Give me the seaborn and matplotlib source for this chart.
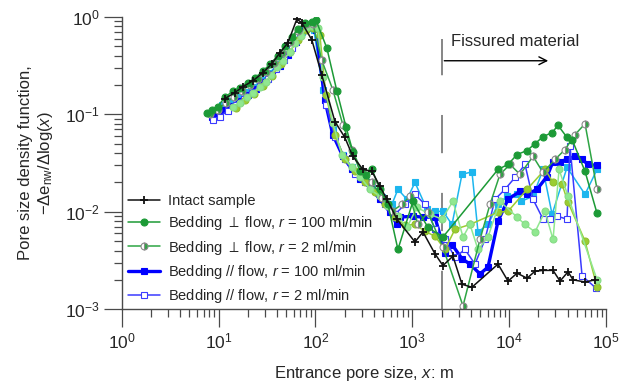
import matplotlib
matplotlib.use("Agg")
import matplotlib.pyplot as plt
import seaborn as sns

# values (x: entrance pore size, y: -de/dlog(x))
x_intact = [11.6, 14.7, 17.8, 22.6, 28.6, 35.4, 42.9, 51.9, 64.2, 72.4, 91.8, 116, 159, 201,
            243, 309, 383, 463, 547, 693, 1064, 1288, 1712, 2070, 2625, 3253, 4125, 7660,
            9720, 12050, 15290, 18457, 22340, 28340, 33445, 40470, 45600, 60604, 76872]
y_intact = [0.145, 0.167, 0.192, 0.221, 0.267, 0.330, 0.428, 0.542, 0.95, 0.87, 0.58, 0.255,
            0.084, 0.058, 0.037, 0.0272, 0.026, 0.0182, 0.0134, 0.0084, 0.0049, 0.0062,
            0.0037, 0.0028, 0.0035, 0.0018, 0.00168, 0.0029, 0.00194, 0.00234, 0.00208,
            0.00245, 0.0025, 0.0025, 0.00194, 0.00242, 0.0020, 0.0019, 0.0020]

x_perp100 = [7.55, 8.5, 9.8, 11.6, 14.0, 16.6, 20.0, 23.7, 28.6, 33.8, 40.9, 48.3, 57.0, 65.8,
             77.7, 91.8, 101, 131, 166, 206, 243, 288, 332, 383, 463, 560, 710, 1014, 1449,
             2070, 7660, 9720, 12050, 15290, 18457, 22340, 27700, 31900, 39500, 44600,
             60604, 80700]
y_perp100 = [0.104, 0.112, 0.120, 0.15, 0.172, 0.188, 0.21, 0.236, 0.278, 0.325, 0.40, 0.505,
             0.624, 0.75, 0.87, 0.89, 0.93, 0.48, 0.175, 0.075, 0.0415, 0.026, 0.0236,
             0.0272, 0.017, 0.0119, 0.0041, 0.0128, 0.0069, 0.0055, 0.0272, 0.0306, 0.0387,
             0.0425, 0.050, 0.059, 0.065, 0.077, 0.058, 0.055, 0.026, 0.0096]

x_perp2 = [8.1, 9.8, 11.9, 14.4, 17.4, 21.0, 25.4, 30.7, 37.2, 45.0, 54.4, 65.8, 79.6, 94.0,
           116, 151, 192, 238, 301, 383, 486, 615, 781, 944, 1142, 1449, 2070, 3334, 4991,
           6331, 8030, 10186, 12920, 17620, 22340, 29696, 37667, 47778, 60604, 80700]
y_perp2 = [0.102, 0.112, 0.132, 0.152, 0.175, 0.201, 0.232, 0.274, 0.338, 0.428, 0.555, 0.72,
           0.85, 0.85, 0.36, 0.179, 0.078, 0.0435, 0.026, 0.020, 0.014, 0.0101, 0.0119,
           0.0144, 0.0074, 0.0099, 0.0043, 0.00108, 0.0052, 0.0119, 0.0242, 0.0306, 0.0242,
           0.037, 0.0253, 0.0344, 0.0435, 0.062, 0.080, 0.017]

x_para100 = [8.5, 9.8, 11.6, 13.7, 16.6, 20.0, 24.2, 29.3, 35.4, 42.9, 51.9, 62.8, 74.1, 87.5,
             101, 125, 151, 192, 238, 288, 365, 463, 587, 693, 745, 1014, 1288, 1712, 2172,
             2566, 3253, 3935, 4991, 6040, 7660, 9720, 12920, 15290, 19370, 24550, 28340,
             33445, 39500, 47778, 56500, 65200, 80700]
y_para100 = [0.095, 0.099, 0.112, 0.123, 0.138, 0.159, 0.183, 0.216, 0.261, 0.315, 0.41,
             0.555, 0.74, 0.81, 0.74, 0.141, 0.062, 0.037, 0.0272, 0.0215, 0.0178, 0.0134,
             0.0099, 0.0074, 0.0088, 0.0090, 0.0088, 0.0088, 0.0038, 0.0046, 0.0033, 0.0029,
             0.0023, 0.0027, 0.0080, 0.0134, 0.0162, 0.0151, 0.0170, 0.0230, 0.0328, 0.0328,
             0.0344, 0.037, 0.0344, 0.0306, 0.0299]

x_para2 = [8.7, 10.3, 12.4, 15.1, 18.2, 22.0, 26.7, 32.2, 39.0, 47.2, 57.0, 69.0, 79.6, 91.8,
           106, 128, 159, 201, 255, 324, 411, 521, 661, 839, 1064, 1350, 1712, 2172, 2754,
           3494, 4432, 5621, 7130, 9044, 11472, 14551, 17620, 22340, 26367, 31200, 39500,
           42423, 56500, 78800]
y_para2 = [0.088, 0.095, 0.109, 0.126, 0.145, 0.167, 0.197, 0.232, 0.29, 0.36, 0.48, 0.65,
           0.77, 0.79, 0.65, 0.126, 0.058, 0.0344, 0.0242, 0.020, 0.0162, 0.0119, 0.0094,
           0.0119, 0.0151, 0.0119, 0.0066, 0.0052, 0.0034, 0.0041, 0.0029, 0.0052, 0.0134,
           0.017, 0.0225, 0.0306, 0.0134, 0.0084, 0.0084, 0.0090, 0.0084, 0.047, 0.0022,
           0.00164]

# further runs drawn in the figure without a legend entry
x_cyan = [10.8, 13.1, 15.8, 19.1, 23.1, 27.9, 33.8, 40.9, 49.4, 59.8, 72.4, 83.5, 96.2, 119,
          151, 192, 238, 301, 383, 486, 615, 710, 880, 1064, 1416, 1712, 2070, 2566, 3253,
          4125, 4760, 6040, 7660, 9480, 12050, 13250, 17620, 22340, 27700, 39500, 60604,
          80700]
y_cyan = [0.126, 0.138, 0.152, 0.171, 0.192, 0.226, 0.267, 0.33, 0.42, 0.54, 0.70, 0.77, 0.74,
          0.179, 0.070, 0.0387, 0.0285, 0.0225, 0.0178, 0.0141, 0.0119, 0.0170, 0.0134,
          0.020, 0.0106, 0.0101, 0.0101, 0.0074, 0.0242, 0.0257, 0.0062, 0.0074, 0.0119,
          0.0144, 0.0151, 0.0128, 0.0144, 0.0272, 0.0094, 0.0285, 0.0151, 0.0272]

x_lgreen = [14.0, 16.6, 19.6, 22.6, 26.7, 30.7, 34.6, 39.9, 46.1, 54.4, 61.2, 70.6, 81.5, 91.8,
            106, 119, 151, 187, 238, 288, 365, 463, 560, 710, 880, 1116, 1520, 2020, 2625,
            3334, 3935, 4760, 6040, 8030, 12050, 14551, 18457, 23412, 28340, 32700, 40470,
            80700]
y_lgreen = [0.120, 0.132, 0.152, 0.167, 0.192, 0.216, 0.255, 0.308, 0.355, 0.438, 0.54, 0.64,
            0.79, 0.81, 0.77, 0.243, 0.082, 0.0387, 0.0285, 0.023, 0.017, 0.0144, 0.0114,
            0.0090, 0.0069, 0.0111, 0.0094, 0.0084, 0.0128, 0.0055, 0.0074, 0.0041, 0.0055,
            0.0128, 0.0088, 0.0074, 0.0062, 0.0101, 0.0052, 0.0272, 0.0144, 0.0020]

x_ygreen = [15.1, 18.7, 23.1, 28.6, 35.4, 43.9, 54.4, 65.8, 79.6, 94.0, 111, 128, 159, 201,
            255, 324, 411, 521, 661, 839, 1064, 1350, 1712, 2172, 2754, 3935, 7660, 9720,
            15290, 23412, 28340, 35100, 40470, 60604, 80700]
y_ygreen = [0.117, 0.141, 0.163, 0.197, 0.249, 0.33, 0.438, 0.58, 0.74, 0.77, 0.65, 0.159,
            0.062, 0.0344, 0.026, 0.020, 0.0158, 0.0119, 0.0088, 0.0073, 0.0074, 0.0063,
            0.0056, 0.0041, 0.0066, 0.0074, 0.0099, 0.0101, 0.017, 0.0272, 0.020, 0.0191,
            0.0125, 0.0050, 0.00168]

fissure_start = 2000      # boundary of the fissured region
arrow_end = 27000
arrow_y = 0.355
label_y = 0.555
dash_top = 0.6

sns.set_style('ticks')
plt.rcParams['font.family'] = ['Liberation Sans', 'DejaVu Sans']
plt.rcParams['mathtext.fontset'] = 'custom'
plt.rcParams['mathtext.rm'] = 'Liberation Sans'
plt.rcParams['mathtext.it'] = 'Liberation Sans:italic'
plt.rcParams['mathtext.bf'] = 'Liberation Sans:bold'
plt.rcParams['mathtext.fallback'] = 'stixsans'

fig, ax = plt.subplots(figsize=(6.21, 3.85), dpi=100)
fig.subplots_adjust(left=0.196, right=0.976, top=0.956, bottom=0.197)

common = dict(ax=ax, sort=False, estimator=None, markersize=5, linewidth=1.1,
              markeredgewidth=0.8)

# background runs
sns.lineplot(x=x_cyan, y=y_cyan, color='#1db6ee', marker='s', markeredgecolor='#1db6ee', **common)
l_para100 = sns.lineplot(x=x_para100, y=y_para100, color='#0000ff', marker='s',
                         markeredgecolor='#0000ff', label='Bedding // flow, $r$ = 100 ml/min',
                         **{**common, 'linewidth': 2.4}).get_lines()[-1]
l_para2 = sns.lineplot(x=x_para2, y=y_para2, color='#3a3aff', marker='s', markerfacecolor='white',
                       markeredgecolor='#3a3aff', label='Bedding // flow, $r$ = 2 ml/min',
                       **common).get_lines()[-1]
sns.lineplot(x=x_ygreen, y=y_ygreen, color='#9acd32', marker='o', markeredgecolor='#8fbf2c', **common)
sns.lineplot(x=x_lgreen, y=y_lgreen, color='#90e890', marker='o', markeredgecolor='#86dc86', **common)
l_perp2 = sns.lineplot(x=x_perp2, y=y_perp2, color='#2ea544', marker='o', fillstyle='right',
                       markerfacecoloralt='white', markeredgecolor='#8a8a8a',
                       label=r'Bedding ${\perp}$ flow, $r$ = 2 ml/min', **common).get_lines()[-1]
l_perp100 = sns.lineplot(x=x_perp100, y=y_perp100, color='#1c9a36', marker='o',
                         markeredgecolor='#1c9a36',
                         label=r'Bedding ${\perp}$ flow, $r$ = 100 ml/min',
                         **common).get_lines()[-1]
l_intact = sns.lineplot(x=x_intact, y=y_intact, color='#111111', marker='+',
                        markeredgecolor='#111111', label='Intact sample',
                        **{**common, 'markersize': 6, 'markeredgewidth': 1.3}).get_lines()[-1]

ax.set_xscale('log')
ax.set_yscale('log')
ax.set_xlim(1, 1e5)
ax.set_ylim(1e-3, 1)

# fissured-material boundary and arrow
ax.vlines(fissure_start, 1e-3, dash_top, colors='#666666', linewidth=1.1,
          linestyles=(0, (25, 26)), zorder=1)
ax.annotate('', xy=(arrow_end, arrow_y), xytext=(fissure_start, arrow_y),
            arrowprops=dict(arrowstyle='->', color='black', lw=1.0, mutation_scale=14))
ax.text(2505, label_y, 'Fissured material', fontsize=12, va='center', ha='left')

ax.set_xlabel('Entrance pore size, $x$: m', fontsize=12, labelpad=9)
ax.set_ylabel('Pore size density function,\n'
              r'$-\Delta\mathrm{e}_{\mathrm{nw}}/\Delta\mathrm{log}(x)$', fontsize=12,
              labelpad=7)

sns.despine(ax=ax)
for side in ['left', 'bottom']:
    ax.spines[side].set_color('#4a4a4a')
    ax.spines[side].set_linewidth(1.0)
ax.tick_params(which='major', direction='out', length=13, width=0.9, color='#4a4a4a',
               labelsize=12.5, pad=3)
ax.tick_params(which='minor', direction='out', length=5.8, width=0.9, color='#4a4a4a')

handles = [l_intact, l_perp100, l_perp2, l_para100, l_para2]
ax.legend(handles=handles, labels=[h.get_label() for h in handles], loc='lower left',
          bbox_to_anchor=(0.012, 0.015), frameon=False, fontsize=10.5, borderpad=0,
          borderaxespad=0, handlelength=2.2, handletextpad=0.55, labelspacing=0.42)

fig.savefig('out.png', dpi=100)
